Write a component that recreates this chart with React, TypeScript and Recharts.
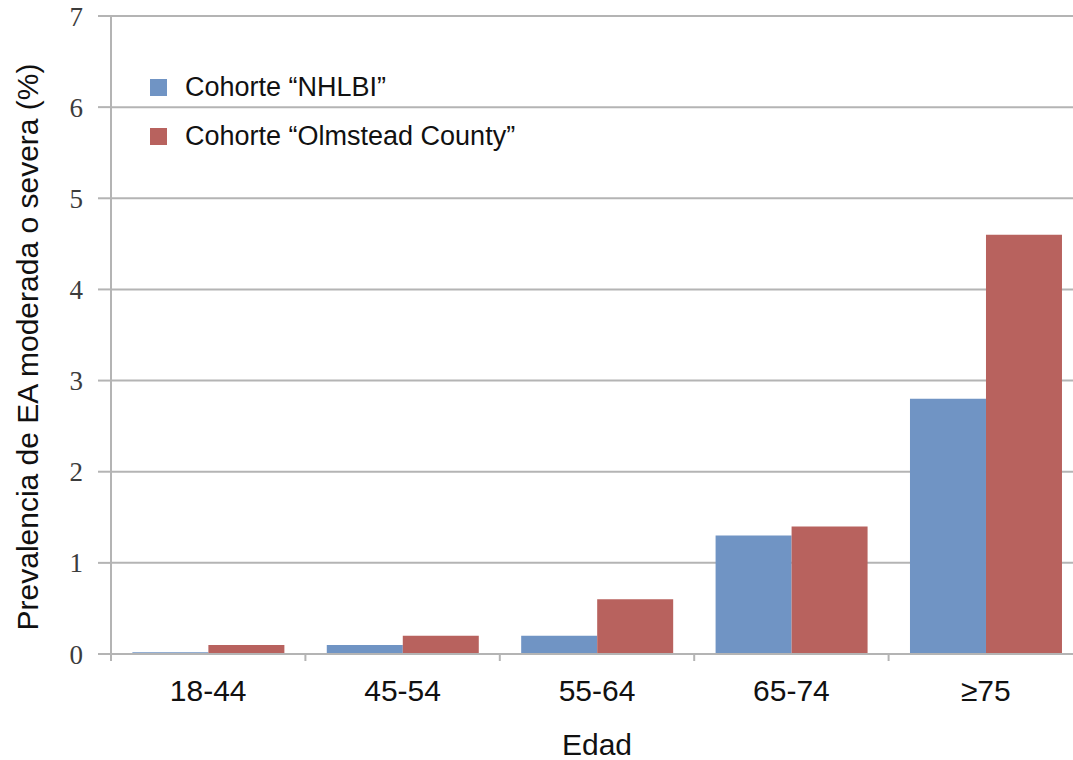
import { BarChart, Bar, XAxis, YAxis, CartesianGrid, Legend, Label } from 'recharts';

const ageGroups = ['18-44', '45-54', '55-64', '65-74', '≥75'];
const nhlbi = [0.02, 0.1, 0.2, 1.3, 2.8];
const olmstead = [0.1, 0.2, 0.6, 1.4, 4.6];
const yTicks = [0, 1, 2, 3, 4, 5, 6, 7];

const BLUE = '#7094c4';
const RED = '#b8625e';
const GRID = '#b4b4b4';
const SANS = '"Liberation Sans", Arial, sans-serif';
const X_TICK_GAP = 26;

const data = ageGroups.map((g, i) => ({ group: g, nhlbi: nhlbi[i], olmstead: olmstead[i] }));

const LegendBox = ({ payload }: any) => (
  <div style={{ fontFamily: SANS, fontSize: 27, color: '#111' }}>
    {(payload || []).map((p: any) => (
      <div key={p.value} style={{ display: 'flex', alignItems: 'center', height: 49 }}>
        <span style={{ width: 17, height: 17, background: p.color, display: 'inline-block', marginRight: 18 }} />
        <span>{p.value}</span>
      </div>
    ))}
  </div>
);

// category label + small tick marks at the group boundaries (excel style)
const GroupTick = ({ x, y, payload, index, visibleTicksCount }: any) => {
  const half = payload.offset || 0;
  const axisY = y - X_TICK_GAP;
  const last = index === visibleTicksCount - 1;
  return (
    <g>
      <line x1={x - half} x2={x - half} y1={axisY} y2={axisY + 7} stroke={GRID} strokeWidth={2} />
      {last && <line x1={x + half} x2={x + half} y1={axisY} y2={axisY + 7} stroke={GRID} strokeWidth={2} />}
      <text x={x} y={y} dy="0.71em" textAnchor="middle" fontFamily={SANS} fontSize={30} fill="#111">
        {payload.value}
      </text>
    </g>
  );
};

// rotated y title, baseline placed near the left edge of the axis box
const YTitle = ({ viewBox }: any) => {
  const x = viewBox.x + 38;
  const y = viewBox.y + viewBox.height / 2 + 12;
  return (
    <text x={x} y={y} transform={`rotate(-90 ${x} ${y})`} textAnchor="middle" fontFamily={SANS} fontSize={30} fill="#111">
      Prevalencia de EA moderada o severa (%)
    </text>
  );
};

export default function App() {
  return (
    <div style={{ position: 'absolute', left: 0, top: 0, width: 1073, height: 760, overflow: 'hidden', background: '#fff' }}>
      <BarChart
        width={1090}
        height={760}
        data={data}
        margin={{ top: 16, right: 7, left: 0, bottom: 0 }}
        barCategoryGap="11%"
        barGap={0}
      >
        <CartesianGrid vertical={false} stroke={GRID} strokeWidth={2} />
        <XAxis
          dataKey="group"
          height={106}
          axisLine={{ stroke: GRID, strokeWidth: 2 }}
          tickLine={false}
          tickSize={0}
          tickMargin={X_TICK_GAP}
          interval={0}
          tick={<GroupTick />}
        >
          <Label value="Edad" position="insideBottom" offset={5} style={{ fontFamily: SANS, fontSize: 30, fill: '#111' }} />
        </XAxis>
        <YAxis
          width={111}
          domain={[0, 7]}
          ticks={yTicks}
          interval={0}
          axisLine={{ stroke: GRID, strokeWidth: 2 }}
          tickLine={{ stroke: GRID, strokeWidth: 2 }}
          tickSize={13}
          tickMargin={15}
          tick={{ fontFamily: '"Liberation Serif", serif', fontSize: 27, fill: '#3c3c3c' }}
        >
          <Label content={<YTitle />} />
        </YAxis>
        <Legend
          layout="vertical"
          align="center"
          verticalAlign="middle"
          content={<LegendBox />}
          wrapperStyle={{ position: 'absolute', left: 150, top: 63, width: 'auto' }}
        />
        <Bar dataKey="nhlbi" name="Cohorte “NHLBI”" fill={BLUE} isAnimationActive={false} />
        <Bar dataKey="olmstead" name="Cohorte “Olmstead County”" fill={RED} isAnimationActive={false} />
      </BarChart>
    </div>
  );
}
